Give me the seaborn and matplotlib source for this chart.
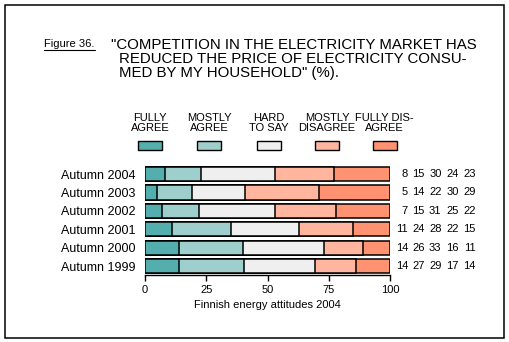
import matplotlib
matplotlib.use("Agg")
import matplotlib.pyplot as plt
import matplotlib.transforms as mtransforms
from matplotlib.patches import Rectangle
from matplotlib.lines import Line2D
import numpy as np
import pandas as pd
import seaborn as sns

# Survey answers per round (%)
periods = ["Autumn 2004", "Autumn 2003", "Autumn 2002", "Autumn 2001", "Autumn 2000", "Autumn 1999"]
categories = ["FULLY\nAGREE", "MOSTLY\nAGREE", "HARD\nTO SAY", "MOSTLY\nDISAGREE", "FULLY DIS-\nAGREE"]
fully_agree = [8, 5, 7, 11, 14, 14]
mostly_agree = [15, 14, 15, 24, 26, 27]
hard_to_say = [30, 22, 31, 28, 33, 29]
mostly_disagree = [24, 30, 25, 22, 16, 17]
fully_disagree = [23, 29, 22, 15, 11, 14]
x_ticks = [0, 25, 50, 75, 100]
colors = ["#55AEAE", "#9ECFCD", "#EFEFEF", "#FFB59E", "#FF9371"]

title_lines = ['"COMPETITION IN THE ELECTRICITY MARKET HAS',
               'REDUCED THE PRICE OF ELECTRICITY CONSU-',
               'MED BY MY HOUSEHOLD" (%).']
figure_label = "Figure 36."
source_label = "Finnish energy attitudes 2004"

sns.set_theme(style="white")
plt.rcParams["font.family"] = ["Liberation Sans", "DejaVu Sans"]

W, H = 509, 342
fig = plt.figure(figsize=(W / 100, H / 100), dpi=100)
fig.patch.set_facecolor("white")

def fx(px):
    return px / W

def fy(py):
    return 1 - py / H

ax = fig.add_axes([fx(145), fy(275.2), fx(390) - fx(145), fy(164.8) - fy(275.2)])

values = np.array([fully_agree, mostly_agree, hard_to_say, mostly_disagree, fully_disagree], dtype=float)
shares = values / values.sum(axis=0) * 100
cum = np.cumsum(shares, axis=0)

# stacked bars: draw cumulative totals from the widest down
for i in range(len(categories) - 1, -1, -1):
    df = pd.DataFrame({"period": periods, "value": cum[i]})
    sns.barplot(data=df, x="value", y="period", order=periods, orient="h",
                color=colors[i], saturation=1, width=0.76,
                edgecolor="black", linewidth=1.1, ax=ax)

ax.set_xlim(0, 100)
ax.set_ylim(5.48, -0.5)
ax.set_xticks(x_ticks)
ax.set_xticklabels([str(t) for t in x_ticks], fontsize=8)
ax.tick_params(axis="x", direction="out", length=4, width=1, color="black", pad=3, bottom=True)
ax.tick_params(axis="y", length=0, pad=7, labelsize=9)
ax.set_xlabel("")
ax.set_ylabel("")
for s in ["top", "right", "left"]:
    ax.spines[s].set_visible(False)
ax.spines["bottom"].set_color("black")
ax.spines["bottom"].set_linewidth(1)
ax.spines["bottom"].set_bounds(0, 100)
for lab in ax.get_yticklabels():
    lab.set_color("black")
for lab in ax.get_xticklabels():
    lab.set_color("black")

# value columns to the right of the bars
blend = mtransforms.blended_transform_factory(fig.transFigure, ax.transData)
col_right = [408, 424.5, 441.5, 458.5, 475.5]
for r in range(len(periods)):
    for c in range(len(categories)):
        ax.text(fx(col_right[c]), r, str(int(values[c, r])), transform=blend,
                ha="right", va="center", fontsize=8, color="black", clip_on=False)

# legend swatches with labels above
leg_centers = [150, 209, 268.5, 327, 384.5]
for c, xc in enumerate(leg_centers):
    fig.text(fx(xc), fy(123), categories[c], ha="center", va="center",
             fontsize=8, linespacing=1.05, color="black")
    fig.patches.append(Rectangle((fx(xc - 12), fy(150)), fx(24), fy(141) - fy(150),
                                 transform=fig.transFigure, facecolor=colors[c],
                                 edgecolor="black", linewidth=1.0))

# title
fig.text(fx(44), fy(44), figure_label, ha="left", va="center", fontsize=8, color="black")
fig.lines.append(Line2D([fx(44), fx(95)], [fy(50), fy(50)], transform=fig.transFigure,
                        color="black", linewidth=0.8))
fig.text(fx(111), fy(45), title_lines[0], ha="left", va="center", fontsize=10.8, color="black")
fig.text(fx(119), fy(59), title_lines[1], ha="left", va="center", fontsize=10.8, color="black")
fig.text(fx(119), fy(73), title_lines[2], ha="left", va="center", fontsize=10.8, color="black")

fig.text(fx(267.5), fy(305), source_label, ha="center", va="center", fontsize=8, color="black")

# frame around the whole figure
fig.patches.append(Rectangle((fx(5), fy(338)), fx(499), fy(5) - fy(338),
                             transform=fig.transFigure, fill=False,
                             edgecolor="black", linewidth=1.1))

fig.savefig("out.png", dpi=100)
